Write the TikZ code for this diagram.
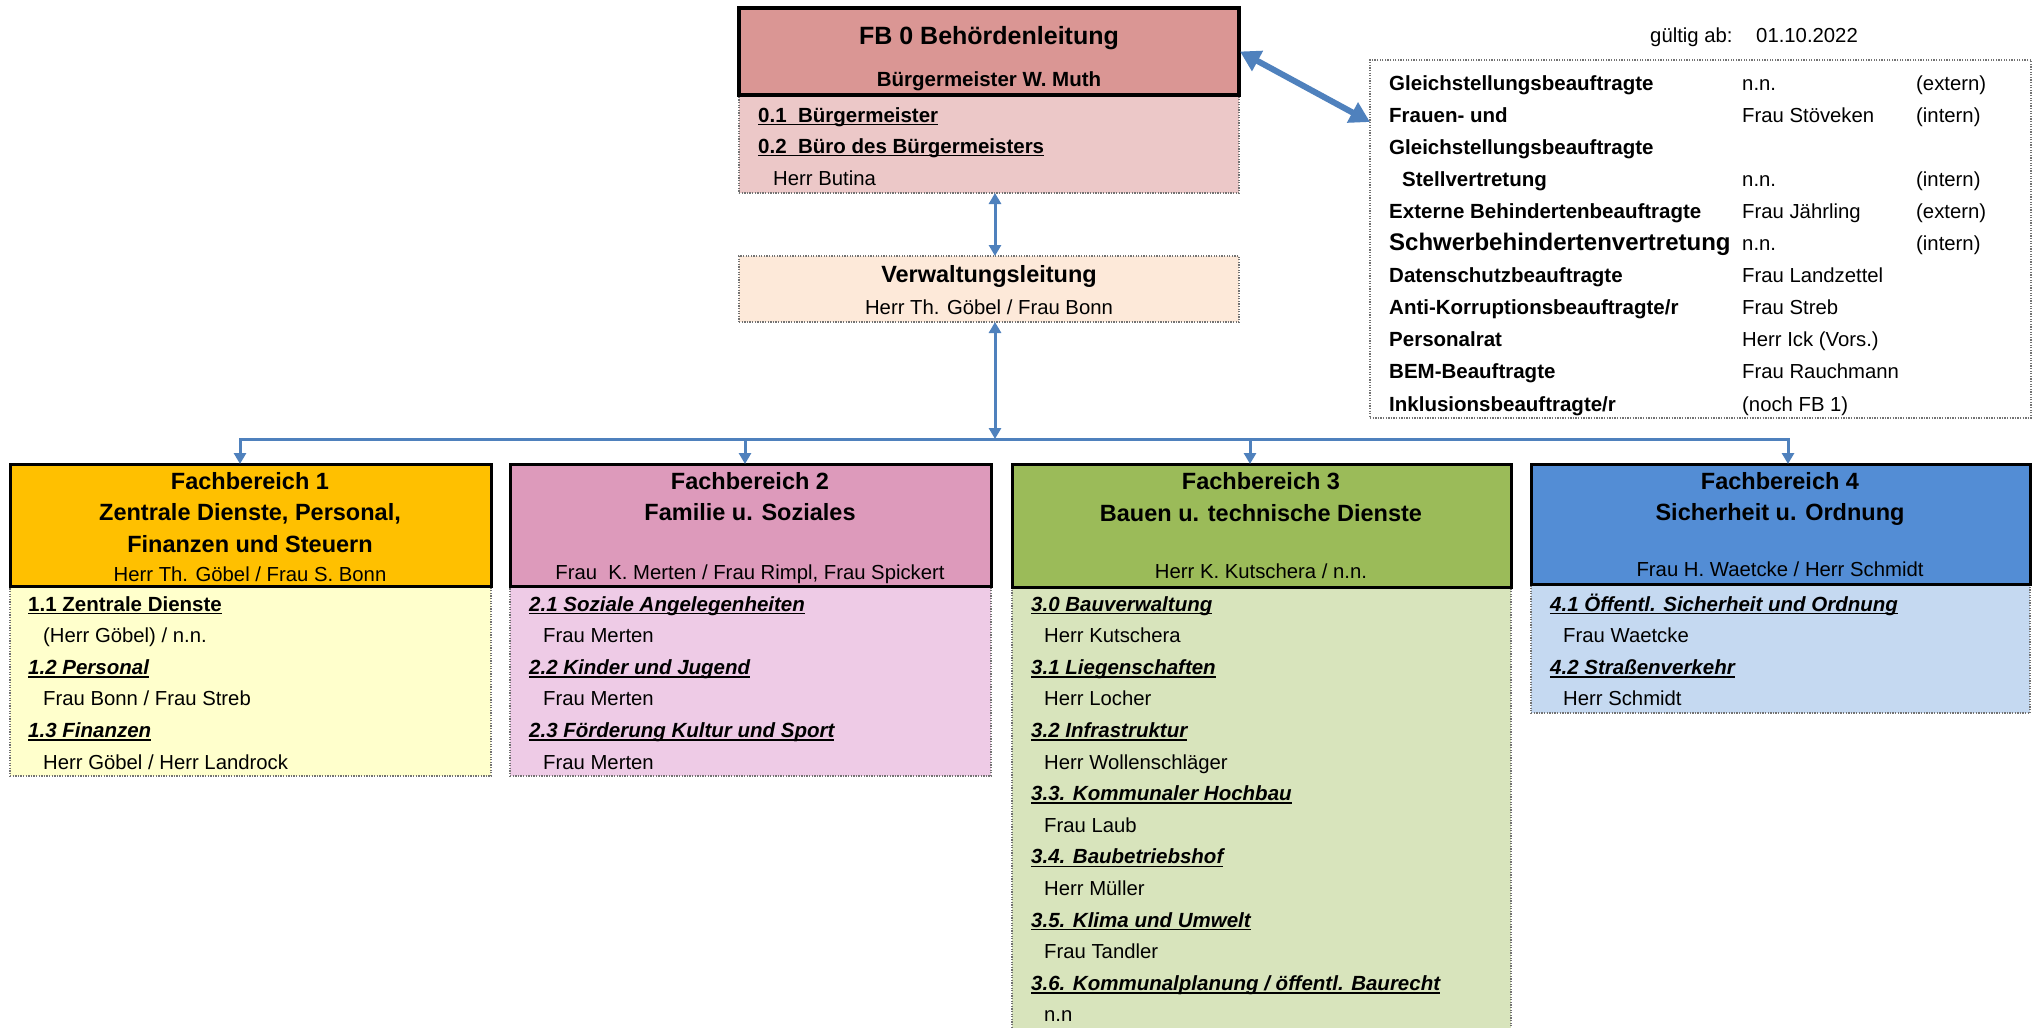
\documentclass[tikz,border=0pt]{standalone}
\usepackage{fontspec}
\setmainfont{Liberation Sans}
\usetikzlibrary{arrows.meta,calc}
\definecolor{arrowblue}{HTML}{4F81BD}
\definecolor{hzero}{HTML}{DA9694}
\definecolor{bzero}{HTML}{ECC8C8}
\definecolor{vlfill}{HTML}{FDE9D9}
\definecolor{hone}{HTML}{FFC000}
\definecolor{bone}{HTML}{FFFFCC}
\definecolor{htwo}{HTML}{DD9ABB}
\definecolor{btwo}{HTML}{EECBE6}
\definecolor{hthree}{HTML}{9BBB59}
\definecolor{bthree}{HTML}{D8E4BC}
\definecolor{hfour}{HTML}{538DD5}
\definecolor{bfour}{HTML}{C5D9F1}
\newcommand\myul[1]{\setbox0\hbox{#1}\rlap{\rule[-3.4pt]{\wd0}{1.7pt}}\box0}
\newcommand\fhead{\fontsize{23.5}{27}\selectfont\bfseries}
\newcommand\fbig{\fontsize{25}{29}\selectfont\bfseries}
\newcommand\fsub{\fontsize{20.5}{24}\selectfont\bfseries}
\newcommand\fbody{\fontsize{20.3}{24}\selectfont}
\newcommand\fbold{\fontsize{20.5}{24}\selectfont\bfseries}
\newcommand\fbi{\fontsize{20.5}{24}\selectfont\bfseries\itshape}
\newcommand\fsbv{\fontsize{24}{28}\selectfont\bfseries}
\begin{document}
\begin{tikzpicture}[x=1pt,y=-1pt,
  box/.style={rectangle, anchor=north west, inner sep=0pt, outer sep=0pt},
  hdr/.style={box, draw=black, line width=3pt},
  bodybox/.style={box, draw=black!55, line width=1.3pt, dash pattern=on 1.3pt off 1.3pt},
  lbl/.style={anchor=base west, inner sep=0pt, font=\fbody},
  ctr/.style={anchor=base, inner sep=0pt},
  conn/.style={draw=arrowblue, line width=3pt},
  arr/.style={conn, -{Triangle[width=12pt,length=11pt]}},
  darr/.style={conn, {Triangle[width=12pt,length=11pt]}-{Triangle[width=12pt,length=11pt]}},
  bigarr/.style={draw=arrowblue, line width=6pt, {Triangle[width=22pt,length=20pt]}-{Triangle[width=22pt,length=20pt]}}
]
\useasboundingbox (0,0) rectangle (2038,1028);
\fill[white] (0,0) rectangle (2038,1028);

% ---------- FB 0 ----------
\node[bodybox, fill=bzero, minimum width=500pt, minimum height=98pt] (b0) at (739,95) {};
\node[hdr, line width=4.5pt, fill=hzero, minimum width=500pt, minimum height=87pt] (h0) at (739,8) {};
\node[ctr, font=\fbig] (t0) at (989,44) {FB 0 Behördenleitung};
\node[ctr, font=\fsub] (t0s) at (989,86) {Bürgermeister W. Muth};
\node[lbl] (t01) at (758,122) {\fbold\myul{0.1\ \ Bürgermeister}};
\node[lbl] (t02) at (758,153) {\fbold\myul{0.2\ \ Büro des Bürgermeisters}};
\node[lbl] (t03) at (773,185) {Herr Butina};

% ---------- Verwaltungsleitung ----------
\node[bodybox, fill=vlfill, minimum width=500pt, minimum height=66pt] (vl) at (739,256) {};
\node[ctr, font=\fhead] (tv1) at (989,282) {Verwaltungsleitung};
\node[ctr, font=\fbody] (tv2) at (989,314) {Herr Th. Göbel / Frau Bonn};

% ---------- side box ----------
\node[ctr, font=\fbody, anchor=base west] (gab) at (1650,42) {gültig ab:};
\node[ctr, font=\fbody, anchor=base west] (gdt) at (1756,42) {01.10.2022};
\node[bodybox, fill=white, minimum width=661pt, minimum height=358pt] (side) at (1370,60) {};
\node[lbl, font=\fbold] (s1a) at (1389,90) {Gleichstellungsbeauftragte};
\node[lbl] (s1b) at (1742,90) {n.n.};
\node[lbl] (s1c) at (1916,90) {(extern)};
\node[lbl, font=\fbold] (s2a) at (1389,122.1) {Frauen- und};
\node[lbl] (s2b) at (1742,122.1) {Frau Stöveken};
\node[lbl] (s2c) at (1916,122.1) {(intern)};
\node[lbl, font=\fbold] (s3a) at (1389,154.2) {Gleichstellungsbeauftragte};
\node[lbl, font=\fbold] (s4a) at (1402,186.3) {Stellvertretung};
\node[lbl] (s4b) at (1742,186.3) {n.n.};
\node[lbl] (s4c) at (1916,186.3) {(intern)};
\node[lbl, font=\fbold] (s5a) at (1389,218.4) {Externe Behindertenbeauftragte};
\node[lbl] (s5b) at (1742,218.4) {Frau Jährling};
\node[lbl] (s5c) at (1916,218.4) {(extern)};
\node[lbl, font=\fsbv] (s6a) at (1389,250.5) {Schwerbehindertenvertretung};
\node[lbl] (s6b) at (1742,250.5) {n.n.};
\node[lbl] (s6c) at (1916,250.5) {(intern)};
\node[lbl, font=\fbold] (s7a) at (1389,282.6) {Datenschutzbeauftragte};
\node[lbl] (s7b) at (1742,282.6) {Frau Landzettel};
\node[lbl, font=\fbold] (s8a) at (1389,314.7) {Anti-Korruptionsbeauftragte/r};
\node[lbl] (s8b) at (1742,314.7) {Frau Streb};
\node[lbl, font=\fbold] (s9a) at (1389,346.8) {Personalrat};
\node[lbl] (s9b) at (1742,346.8) {Herr Ick (Vors.)};
\node[lbl, font=\fbold] (s10a) at (1389,378.9) {BEM-Beauftragte};
\node[lbl] (s10b) at (1742,378.9) {Frau Rauchmann};
\node[lbl, font=\fbold] (s11a) at (1389,411) {Inklusionsbeauftragte/r};
\node[lbl] (s11b) at (1742,411) {(noch FB 1)};

% ---------- FB 1 ----------
\node[bodybox, fill=bone, minimum width=481pt, minimum height=190pt] (b1) at (10,586) {};
\node[hdr, fill=hone, minimum width=481pt, minimum height=122pt] (h1) at (10,464) {};
\node[ctr, font=\fhead] (t1a) at (250,489) {Fachbereich 1};
\node[ctr, font=\fhead] (t1b) at (250,520) {Zentrale Dienste, Personal,};
\node[ctr, font=\fhead] (t1c) at (250,552) {Finanzen und Steuern};
\node[ctr, font=\fbody] (t1d) at (250,581) {Herr Th. Göbel / Frau S. Bonn};
\node[lbl] (l11) at (28,611) {\fbold\myul{1.1 Zentrale Dienste}};
\node[lbl] (l12) at (43,642.6) {(Herr Göbel) / n.n.};
\node[lbl] (l13) at (28,674.2) {\fbi\myul{1.2 Personal}};
\node[lbl] (l14) at (43,705.8) {Frau Bonn / Frau Streb};
\node[lbl] (l15) at (28,737.4) {\fbi\myul{1.3 Finanzen}};
\node[lbl] (l16) at (43,769) {Herr Göbel / Herr Landrock};

% ---------- FB 2 ----------
\node[bodybox, fill=btwo, minimum width=481pt, minimum height=190pt] (b2) at (510,586) {};
\node[hdr, fill=htwo, minimum width=481pt, minimum height=122pt] (h2) at (510,464) {};
\node[ctr, font=\fhead] (t2a) at (750,489) {Fachbereich 2};
\node[ctr, font=\fhead] (t2b) at (750,520) {Familie u. Soziales};
\node[ctr, font=\fbody] (t2d) at (750,579) {Frau\ \ K. Merten / Frau Rimpl, Frau Spickert};
\node[lbl] (l21) at (529,611) {\fbi\myul{2.1 Soziale Angelegenheiten}};
\node[lbl] (l22) at (543,642.6) {Frau Merten};
\node[lbl] (l23) at (529,674.2) {\fbi\myul{2.2 Kinder und Jugend}};
\node[lbl] (l24) at (543,705.8) {Frau Merten};
\node[lbl] (l25) at (529,737.4) {\fbi\myul{2.3 Förderung Kultur und Sport}};
\node[lbl] (l26) at (543,769) {Frau Merten};

% ---------- FB 3 ----------
\node[bodybox, fill=bthree, minimum width=499pt, minimum height=450pt] (b3) at (1012,587) {};
\node[hdr, fill=hthree, minimum width=499pt, minimum height=123pt] (h3) at (1012,464) {};
\node[ctr, font=\fhead] (t3a) at (1261,489) {Fachbereich 3};
\node[ctr, font=\fhead] (t3b) at (1261,521) {Bauen u. technische Dienste};
\node[ctr, font=\fbody] (t3d) at (1261,578) {Herr K. Kutschera / n.n.};
\node[lbl] (l31) at (1031,611) {\fbi\myul{3.0 Bauverwaltung}};
\node[lbl] (l32) at (1044,642.6) {Herr Kutschera};
\node[lbl] (l33) at (1031,674.2) {\fbi\myul{3.1 Liegenschaften}};
\node[lbl] (l34) at (1044,705.8) {Herr Locher};
\node[lbl] (l35) at (1031,737.4) {\fbi\myul{3.2 Infrastruktur}};
\node[lbl] (l36) at (1044,769) {Herr Wollenschläger};
\node[lbl] (l37) at (1031,800.6) {\fbi\myul{3.3. Kommunaler Hochbau}};
\node[lbl] (l38) at (1044,832.2) {Frau Laub};
\node[lbl] (l39) at (1031,863.8) {\fbi\myul{3.4. Baubetriebshof}};
\node[lbl] (l310) at (1044,895.4) {Herr Müller};
\node[lbl] (l311) at (1031,927) {\fbi\myul{3.5. Klima und Umwelt}};
\node[lbl] (l312) at (1044,958.6) {Frau Tandler};
\node[lbl] (l313) at (1031,990.2) {\fbi\myul{3.6. Kommunalplanung / öffentl. Baurecht}};
\node[lbl] (l314) at (1044,1021.8) {n.n};

% ---------- FB 4 ----------
\node[bodybox, fill=bfour, minimum width=499pt, minimum height=129pt] (b4) at (1531,584) {};
\node[hdr, fill=hfour, minimum width=499pt, minimum height=120pt] (h4) at (1531,464) {};
\node[ctr, font=\fhead] (t4a) at (1780,489) {Fachbereich 4};
\node[ctr, font=\fhead] (t4b) at (1780,520) {Sicherheit u. Ordnung};
\node[ctr, font=\fbody] (t4d) at (1780,576) {Frau H. Waetcke / Herr Schmidt};
\node[lbl] (l41) at (1550,611) {\fbi\myul{4.1 Öffentl. Sicherheit und Ordnung}};
\node[lbl] (l42) at (1563,642.6) {Frau Waetcke};
\node[lbl] (l43) at (1550,674.2) {\fbi\myul{4.2 Straßenverkehr}};
\node[lbl] (l44) at (1563,705.8) {Herr Schmidt};

% ---------- connectors ----------
\coordinate (j0) at (995,439);
\coordinate (j1) at (240,439);
\coordinate (j2) at (745,439);
\coordinate (j3) at (1250,439);
\coordinate (j4) at (1788,439);
\draw[darr] (b0.south -| j0) -- (vl.north -| j0);
\draw[darr] (vl.south -| j0) -- (j0);
\draw[conn, line cap=rect] (j1) -- (j4);
\draw[arr] (j1) -- (h1.north -| j1);
\draw[arr] (j2) -- (h2.north -| j2);
\draw[arr] (j3) -- (h3.north -| j3);
\draw[arr] (j4) -- (h4.north -| j4);
\draw[bigarr] ($(h0.east)+(1,0)$) -- ($(side.north west)+(0,62)$);
\end{tikzpicture}
\end{document}
